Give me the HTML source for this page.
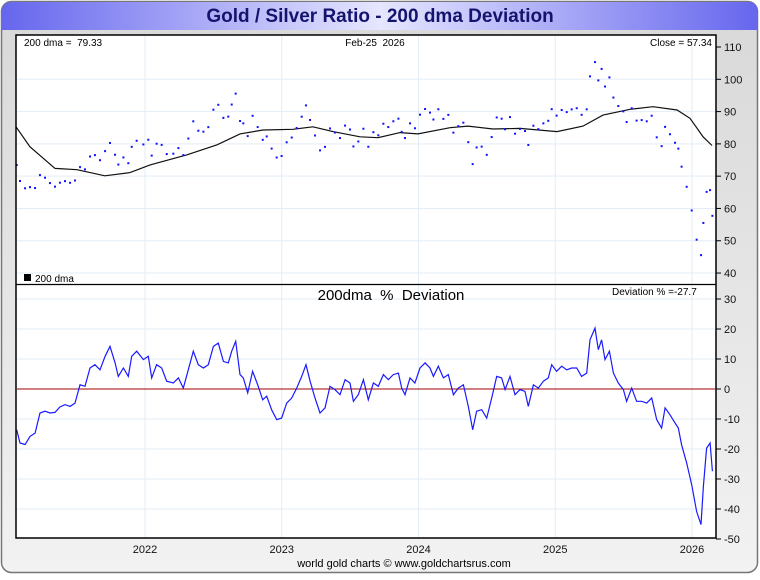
<!DOCTYPE html>
<html><head><meta charset="utf-8"><style>
body{margin:0;width:760px;height:575px;overflow:hidden;background:#fff;font-family:"Liberation Sans",sans-serif}
text{white-space:pre}
</style></head><body>
<svg id="chart" width="760" height="575" xmlns="http://www.w3.org/2000/svg" font-family="Liberation Sans, sans-serif">
<defs>
<linearGradient id="frame" x1="0" y1="0" x2="0" y2="1"><stop offset="0" stop-color="#d8d8d8"/><stop offset="1" stop-color="#f2f2f2"/></linearGradient>
<linearGradient id="titlebar" x1="0" y1="0" x2="1" y2="0"><stop offset="0" stop-color="#6666ee"/><stop offset="0.5" stop-color="#e6e6ff"/><stop offset="1" stop-color="#6666ee"/></linearGradient>
</defs>
<rect x="1.5" y="1.5" width="756" height="571" rx="10" fill="url(#frame)" stroke="#777" stroke-width="1.5"/>
<path d="M2,30 L2,12 Q2,2 12,2 L748,2 Q758,2 758,12 L758,30 Z" fill="url(#titlebar)"/>
<text x="380" y="22" text-anchor="middle" font-size="19" font-weight="bold" fill="#14146e">Gold / Silver Ratio - 200 dma Deviation</text>
<rect x="16" y="35" width="700" height="503" fill="#fff"/>
<g id="grid"></g>
<g id="marks"></g>
<rect x="16" y="35" width="700" height="503" fill="none" stroke="#000" stroke-width="1.5"/>
<line x1="16" y1="284.5" x2="716" y2="284.5" stroke="#000" stroke-width="1.2"/>
<g id="axes" font-size="11" fill="#111"></g>
<text x="24" y="46" font-size="10">200 dma =  79.33</text>
<text x="375" y="46" font-size="10" text-anchor="middle">Feb-25  2026</text>
<text x="712" y="46" font-size="10" text-anchor="end">Close = 57.34</text>
<rect x="24" y="274" width="7" height="7" fill="#000"/>
<text x="35" y="282" font-size="10">200 dma</text>
<text x="391" y="300" font-size="15" text-anchor="middle">200dma  %  Deviation</text>
<text x="612" y="295" font-size="10">Deviation % =-27.7</text>
<text x="404" y="567" font-size="11" text-anchor="middle">world gold charts © www.goldchartsrus.com</text>
</svg>
<script>
const dmaDates=[2021.057,2021.159,2021.342,2021.503,2021.707,2021.890,2022.037,2022.307,2022.527,2022.695,2022.863,2023.082,2023.228,2023.374,2023.572,2023.704,2023.865,2023.996,2024.230,2024.362,2024.545,2024.742,2025.013,2025.203,2025.349,2025.547,2025.715,2025.891,2025.986,2026.081,2026.146];
const dmaValues=[85.3,79.1,72.4,72.0,70.1,71.1,73.5,76.6,79.7,83.1,84.3,84.5,85.3,83.8,82.2,81.9,83.5,83.1,85.0,85.5,84.6,84.8,83.8,85.5,88.9,90.7,91.5,90.5,87.9,82.2,79.5];
const devDates=[2021.062,2021.086,2021.123,2021.159,2021.196,2021.232,2021.269,2021.305,2021.342,2021.378,2021.415,2021.452,2021.488,2021.525,2021.561,2021.598,2021.634,2021.671,2021.708,2021.744,2021.781,2021.805,2021.842,2021.878,2021.903,2021.939,2021.988,2022.024,2022.049,2022.085,2022.122,2022.159,2022.207,2022.244,2022.280,2022.317,2022.353,2022.390,2022.427,2022.463,2022.500,2022.536,2022.573,2022.609,2022.634,2022.663,2022.695,2022.719,2022.751,2022.787,2022.824,2022.861,2022.890,2022.926,2022.963,2022.999,2023.036,2023.073,2023.109,2023.146,2023.177,2023.207,2023.243,2023.280,2023.316,2023.353,2023.389,2023.426,2023.463,2023.499,2023.524,2023.560,2023.597,2023.633,2023.670,2023.706,2023.743,2023.779,2023.816,2023.853,2023.877,2023.901,2023.938,2023.974,2024.011,2024.048,2024.084,2024.109,2024.145,2024.182,2024.218,2024.255,2024.291,2024.328,2024.364,2024.396,2024.425,2024.462,2024.499,2024.535,2024.572,2024.608,2024.633,2024.669,2024.706,2024.742,2024.779,2024.803,2024.840,2024.876,2024.913,2024.949,2024.974,2025.010,2025.047,2025.084,2025.120,2025.157,2025.193,2025.230,2025.254,2025.291,2025.315,2025.339,2025.364,2025.396,2025.425,2025.461,2025.498,2025.522,2025.559,2025.595,2025.632,2025.669,2025.705,2025.742,2025.778,2025.803,2025.839,2025.876,2025.900,2025.924,2025.961,2025.998,2026.034,2026.066,2026.083,2026.107,2026.132,2026.149];
const devValues=[-13.6,-18,-18.5,-15.8,-14.7,-8,-7.4,-8,-7.8,-6,-5.2,-5.8,-4.7,1.4,0.9,7,8.1,6.4,10.9,14.2,8.7,4.2,7,4.2,10.9,12.6,9.8,10.9,3.7,8.1,7,2.6,2,3.7,0.3,6.4,12.6,8.1,7,8.1,14.2,15.3,9.2,8.7,12.6,15.9,4.8,3.7,-1.3,5.9,1.4,-3.6,-2.4,-6.9,-10.2,-9.7,-4.7,-3,0.3,4.2,8.1,2.6,-3,-8,-6.3,0.9,-0.2,-1.9,3.1,2,-4.1,-1.9,3.1,-3.6,2,0.9,4.8,3.1,4.8,5.3,0.3,-1.9,3.7,2,7,8.7,7,4.2,7.6,3.7,4.8,-1.9,0.3,1.4,-5.8,-13.6,-7.4,-6.9,-9.7,-3,4.2,3.7,-0.2,4.2,-1.9,-0.2,-0.8,-5.8,1.4,0.3,2.6,3.7,8.1,5.9,7.6,6.4,7,7,4.2,5.3,16.4,20.3,13.1,16.4,9.8,12.6,5.3,2,-0.2,-4.1,0.3,-4.1,-4.1,-4.7,-3,-10.2,-13,-6.3,-8.6,-11.3,-13,-18.6,-24.7,-31.9,-40.8,-45.2,-32.4,-19.7,-18,-27.4];
const yearTicks=[2022,2023,2024,2025,2026];
const topTicks=[40,50,60,70,80,90,100,110];
const botTicks=[30,20,10,0,-10,-20,-30,-40,-50];

const NS='http://www.w3.org/2000/svg';
const xS=y=>8.25+(y-2021)*136.75;
const yTop=v=>47+(110-v)*3.229;
const yBot=v=>389-v*3;
function mk(tag,attrs,parent){const e=document.createElementNS(NS,tag);for(const k in attrs)e.setAttribute(k,attrs[k]);parent.appendChild(e);return e;}
function dmaAt(t){if(t<=dmaDates[0])return dmaValues[0];for(let i=1;i<dmaDates.length;i++){if(t<=dmaDates[i]){const f=(t-dmaDates[i-1])/(dmaDates[i]-dmaDates[i-1]);return dmaValues[i-1]+f*(dmaValues[i]-dmaValues[i-1]);}}return dmaValues[dmaValues.length-1];}
const grid=document.getElementById('grid'),marks=document.getElementById('marks'),axes=document.getElementById('axes');
yearTicks.forEach(y=>{
 const g=mk('line',{x1:xS(y),x2:xS(y),y1:36,y2:537,stroke:'#e3edf7','stroke-width':1},grid);
 
 
 const t=mk('text',{x:xS(y),y:553,'text-anchor':'middle'},axes);t.textContent=y;
 
 
});
topTicks.forEach(v=>{
 const yy=yTop(v);
 if(v<110){const g=mk('line',{x1:17,x2:715,y1:yy,y2:yy,stroke:'#e3edf7','stroke-width':1},grid);
 
 }
 const tk=mk('line',{x1:716,x2:721,y1:yy,y2:yy,stroke:'#000'},axes);
 
 
 const t=mk('text',{x:724,y:yy+4},axes);t.textContent=v;
 
 
});
botTicks.forEach(v=>{
 const yy=yBot(v);
 if(v!==0&&v>-50){const g=mk('line',{x1:17,x2:715,y1:yy,y2:yy,stroke:'#e3edf7','stroke-width':1},grid);
 
 }
 const tk=mk('line',{x1:716,x2:721,y1:yy,y2:yy,stroke:'#000'},axes);
 
 
 const t=mk('text',{x:724,y:yy+4},axes);t.textContent=v;
 
 
});
const zl=mk('line',{x1:17,x2:715,y1:yBot(0),y2:yBot(0),stroke:'#a00000','stroke-width':1},marks);


const dp=dmaDates.map((d,i)=>xS(d).toFixed(1)+','+yTop(dmaValues[i]).toFixed(1)).join(' ');
const dl=mk('polyline',{points:dp,fill:'none',stroke:'#111','stroke-width':1.2},marks);


devDates.forEach((d,i)=>{
 const r=dmaAt(d)*(1+devValues[i]/100);
 const c=mk('rect',{x:xS(d)-1,y:yTop(r)-1,width:2,height:2,fill:'#1010ff'},marks);
 
 
});
const vp=devDates.map((d,i)=>xS(d).toFixed(1)+','+yBot(devValues[i]).toFixed(1)).join(' ');
const vl=mk('polyline',{points:vp,fill:'none',stroke:'#1a1aff','stroke-width':1.2},marks);


</script>
</body></html>
